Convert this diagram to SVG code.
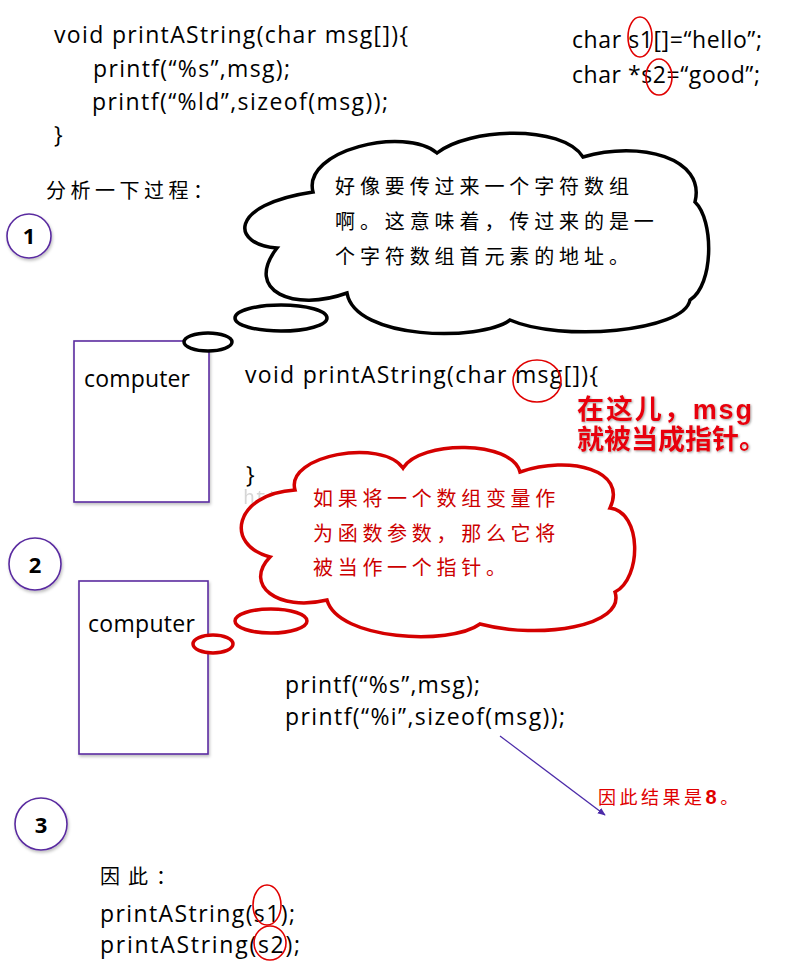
<svg xmlns="http://www.w3.org/2000/svg" width="787" height="974" viewBox="0 0 787 974">
<defs>
<style>
.code{font-family:"Open Sans","Liberation Sans",sans-serif;font-size:23px;fill:#000}
.cjk{font-family:"Noto Sans CJK SC",sans-serif;font-size:20px}
.num{font-family:"Open Sans","Liberation Sans",sans-serif;font-size:22px;font-weight:bold;fill:#000;text-anchor:middle}
.circ{fill:#fff;stroke:#5a2ca0;stroke-width:1.6;filter:url(#sh)}
.box{fill:#fff;stroke:#5a2ca0;stroke-width:1.6;filter:url(#sh)}
.mark{fill:none;stroke:#e00000;stroke-width:1.6}
.bcloud{fill:#fff;stroke:#000;stroke-width:3.5}
.rcloud{fill:#fff;stroke:#d40000;stroke-width:3.5}
.big{font-family:"Liberation Sans","Noto Sans CJK SC",sans-serif;font-size:27px;font-weight:bold;fill:#e8000b;filter:url(#glow)}
</style>
<filter id="sh" x="-20%" y="-20%" width="140%" height="140%">
<feDropShadow dx="1" dy="2" stdDeviation="1.5" flood-color="#000" flood-opacity="0.25"/>
</filter>
<filter id="glow" x="-10%" y="-20%" width="120%" height="140%">
<feDropShadow dx="1" dy="1" stdDeviation="1.2" flood-color="#666" flood-opacity="0.6"/>
</filter>
<marker id="arr" viewBox="0 0 10 10" refX="9" refY="5" markerWidth="8" markerHeight="8" orient="auto" markerUnits="userSpaceOnUse">
<path d="M0,1 L10,5 L0,9 Z" fill="#4b2aa8"/>
</marker>
</defs>
<rect width="787" height="974" fill="#fff"/>

<g id="code-top">
<text class="code" x="54" y="43" textLength="354">void printAString(char msg[]){</text>
<text class="code" x="93" y="77" textLength="197">printf(“%s”,msg);</text>
<text class="code" x="92" y="110" textLength="296">printf(“%ld”,sizeof(msg));</text>
<text class="code" x="54" y="143">}</text>
</g>

<g id="decl">
<text class="code" x="572" y="48" textLength="190">char s1[]=“hello”;</text>
<text class="code" x="572" y="83" textLength="188">char *s2=“good”;</text>
<ellipse class="mark" cx="640" cy="37" rx="12" ry="20"/>
<ellipse class="mark" cx="659" cy="77" rx="13" ry="18"/>
</g>

<g id="analysis-title">
<text class="cjk" x="46" y="198" font-size="19" letter-spacing="4.5">分析一下过程：</text>
</g>

<g id="step1">
<circle class="circ" cx="29" cy="236" r="22"/>
<text class="num" x="29" y="244">1</text>
</g>

<g id="box1">
<rect class="box" x="74" y="341" width="135" height="161"/>
<text class="code" x="84" y="387" font-size="21" textLength="106">computer</text>
</g>

<g id="cloud1">
<path class="bcloud" d="M313,192 C302,150 405,126 437,153 C468,128 562,124 583,157 C640,140 706,158 695,202 C714,220 714,285 690,300 C684,332 560,342 510,320 C480,342 355,340 347,293 C295,312 243,292 277,248 C232,245 226,205 313,192 Z"/>
<text class="cjk" x="335" y="194" letter-spacing="4.9">好像要传过来一个字符数组</text>
<text class="cjk" x="335" y="229" letter-spacing="4.9">啊。这意味着，传过来的是一</text>
<text class="cjk" x="335" y="264" letter-spacing="4.9">个字符数组首元素的地址。</text>
<ellipse class="bcloud" cx="281" cy="318" rx="46" ry="13"/>
<ellipse class="bcloud" cx="208" cy="342" rx="24" ry="9"/>
</g>

<g id="code-mid">
<text class="code" x="245" y="383" textLength="353">void printAString(char msg[]){</text>
<ellipse class="mark" cx="537" cy="381" rx="24" ry="21"/>
<text class="code" x="246" y="483">}</text>
</g>

<g id="note-pointer">
<text class="big" x="577" y="419" textLength="175">在这儿，msg</text>
<text class="big" x="577" y="449">就被当成指针。</text>
</g>

<g id="step2">
<circle class="circ" cx="35" cy="564" r="26"/>
<text class="num" x="35" y="573">2</text>
</g>

<g id="watermark">
<text x="243" y="504" font-family="Liberation Mono,monospace" font-size="20" fill="#bbbbbb" opacity="0.6">http://blog.csdn.net/</text>
</g>

<g id="cloud2">
<path class="rcloud" d="M295,490 C285,455 382,438 403,468 C420,440 512,440 520,472 C570,455 628,470 610,508 C642,512 642,578 615,592 C626,626 540,640 480,624 C450,646 338,640 327,600 C278,612 243,585 270,557 C224,545 234,494 295,490 Z"/>
<text class="cjk" x="313" y="506" fill="#cc0000" letter-spacing="4.7">如果将一个数组变量作</text>
<text class="cjk" x="313" y="541" fill="#cc0000" letter-spacing="4.7">为函数参数，那么它将</text>
<text class="cjk" x="313" y="575" fill="#cc0000" letter-spacing="4.7">被当作一个指针。</text>
<ellipse class="rcloud" cx="271" cy="621" rx="36" ry="12"/>
</g>

<g id="box2">
<rect class="box" x="79" y="581" width="129" height="173"/>
<ellipse class="rcloud" cx="213" cy="644" rx="20" ry="9"/>
<text class="code" x="88" y="632" font-size="21" textLength="107">computer</text>
</g>

<g id="code-printf">
<text class="code" x="285" y="693" textLength="195">printf(“%s”,msg);</text>
<text class="code" x="285" y="725" textLength="280">printf(“%i”,sizeof(msg));</text>
</g>

<g id="result">
<text x="598" y="804" font-family="Noto Sans CJK SC,sans-serif" font-size="18" fill="#e00000" letter-spacing="3.5">因此结果是<tspan font-family="Liberation Sans,sans-serif" font-weight="bold" font-size="20">8</tspan>。</text>
</g>

<g id="connectors">
<line x1="500" y1="736" x2="605" y2="815" stroke="#4b2aa8" stroke-width="1.3" marker-end="url(#arr)"/>
</g>

<g id="step3">
<circle class="circ" cx="41" cy="824" r="26"/>
<text class="num" x="41" y="833">3</text>
</g>

<g id="conclusion">
<text class="cjk" x="100" y="884" font-size="18" letter-spacing="8">因此：</text>
<text class="code" x="100" y="922" textLength="195">printAString(s1);</text>
<text class="code" x="100" y="953" textLength="200">printAString(s2);</text>
<ellipse class="mark" cx="267" cy="905" rx="14" ry="20"/>
<ellipse class="mark" cx="270" cy="943" rx="16" ry="17"/>
</g>
</svg>
